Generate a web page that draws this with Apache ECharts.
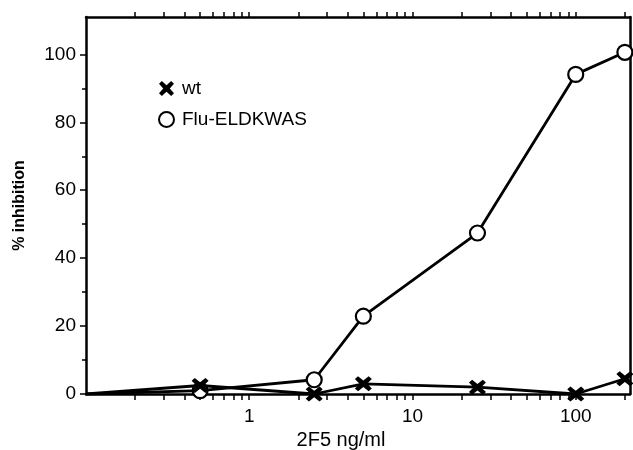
<!DOCTYPE html>
<html>
<head>
<meta charset="utf-8">
<script src="https://cdn.jsdelivr.net/npm/echarts@6/dist/echarts.min.js"></script>
<style>
html,body{margin:0;padding:0;background:#fff;}
#chart{width:633px;height:450px;}
</style>
</head>
<body>
<div id="chart"></div>
<script>

// 数据
const doses = [0.1, 0.5, 2.5, 5, 25, 100, 200];
const wtValues = [0, 2.5, 0, 3, 2, 0, 4.5];
const fluValues = [0, 1, 4.2, 22.9, 47.4, 94.1, 100.6];

const xLabelValues = [1, 10, 100];
const xTickValues = [
0.2,0.3,0.4,0.5,0.6,0.7,0.8,0.9,1,
2,3,4,5,6,7,8,9,10,
20,30,40,50,60,70,80,90,100,200
];
const yMajorTicks = [0,20,40,60,80,100];
const yMinorTicks = [10,30,50,70,90];

const crossPath =
"path://M3,0 L8,4.5 L13,0 L16,3 L11.5,8 L16,13 L13,16 L8,11.5 L3,16 L0,13 L4.5,8 L0,3 Z";

const font = "Liberation Sans";

const dom = document.getElementById("chart");
const chart = echarts.init(dom);

// 第一个点贴在坐标轴上，不画符号
function pairs(vals){
return doses.map((d,i)=>{
if(i===0) return {value:[d, vals[i]], symbol:"none"};
return [d, vals[i]];
});
}

chart.setOption({

animation:false,

grid:{
left:86,
right:3,
top:17,
bottom:56,
outerBoundsMode:"none"
},

legend:{
orient:"vertical",
left:153,
top:74,
itemWidth:17,
itemHeight:15,
itemGap:12,
textStyle:{
fontFamily:font,
fontSize:19,
color:"#000",
padding:[0,0,0,2]
},
data:[
{name:"wt", icon:crossPath, itemStyle:{color:"#000", borderWidth:0}},
{name:"Flu-ELDKWAS", icon:"circle", itemStyle:{color:"#fff", borderColor:"#000", borderWidth:2}}
]
},

xAxis:[{
type:"log",
logBase:10,
min:0.1,
max:215,
name:"2F5 ng/ml",
nameLocation:"middle",
nameGap:33,
nameTextStyle:{
fontFamily:font,
fontSize:20,
color:"#000",
padding:[0,34,0,0]
},
axisLine:{onZero:false, lineStyle:{color:"#000", width:2.5}},
axisTick:{
customValues:xTickValues,
length:6,
lineStyle:{color:"#000", width:1.5}
},
axisLabel:{
customValues:xLabelValues,
fontFamily:font,
fontSize:19,
color:"#000",
margin:13
},
splitLine:{show:false}
},{
type:"log",
logBase:10,
min:0.1,
max:215,
position:"top",
axisLine:{show:true, onZero:false, lineStyle:{color:"#000", width:2.5}},
axisTick:{
show:true,
customValues:xTickValues,
length:5,
lineStyle:{color:"#000", width:1.5}
},
axisLabel:{show:false},
splitLine:{show:false}
}],

yAxis:[{
type:"value",
min:0,
max:111,
name:"% inhibition",
nameLocation:"middle",
nameGap:58,
nameTextStyle:{
fontFamily:font,
fontSize:16,
fontWeight:"bold",
color:"#000"
},
axisLine:{onZero:false, lineStyle:{color:"#000", width:2.5}},
axisTick:{
customValues:yMajorTicks,
length:6,
lineStyle:{color:"#000", width:1.5}
},
axisLabel:{
customValues:yMajorTicks,
fontFamily:font,
fontSize:19,
color:"#000",
margin:10
},
splitLine:{show:false}
},{
type:"value",
min:0,
max:111,
position:"left",
axisLine:{show:false},
axisTick:{
customValues:yMinorTicks,
length:4,
lineStyle:{color:"#000", width:1.5}
},
axisLabel:{show:false},
splitLine:{show:false}
},{
type:"value",
min:0,
max:111,
position:"right",
axisLine:{show:true, onZero:false, lineStyle:{color:"#000", width:2.5}},
axisTick:{show:false},
axisLabel:{show:false},
splitLine:{show:false}
}],

series:[{
name:"wt",
type:"line",
data:pairs(wtValues),
symbol:crossPath,
symbolSize:[17,15],
lineStyle:{color:"#000", width:2.8},
itemStyle:{color:"#000", borderWidth:0},
z:3
},{
name:"Flu-ELDKWAS",
type:"line",
data:pairs(fluValues),
symbol:"circle",
symbolSize:15,
lineStyle:{color:"#000", width:2.8},
itemStyle:{color:"#fff", borderColor:"#000", borderWidth:2.2},
z:2
}]

});

window.addEventListener(
"resize",
()=>chart.resize()
);

</script>
</body>
</html>
